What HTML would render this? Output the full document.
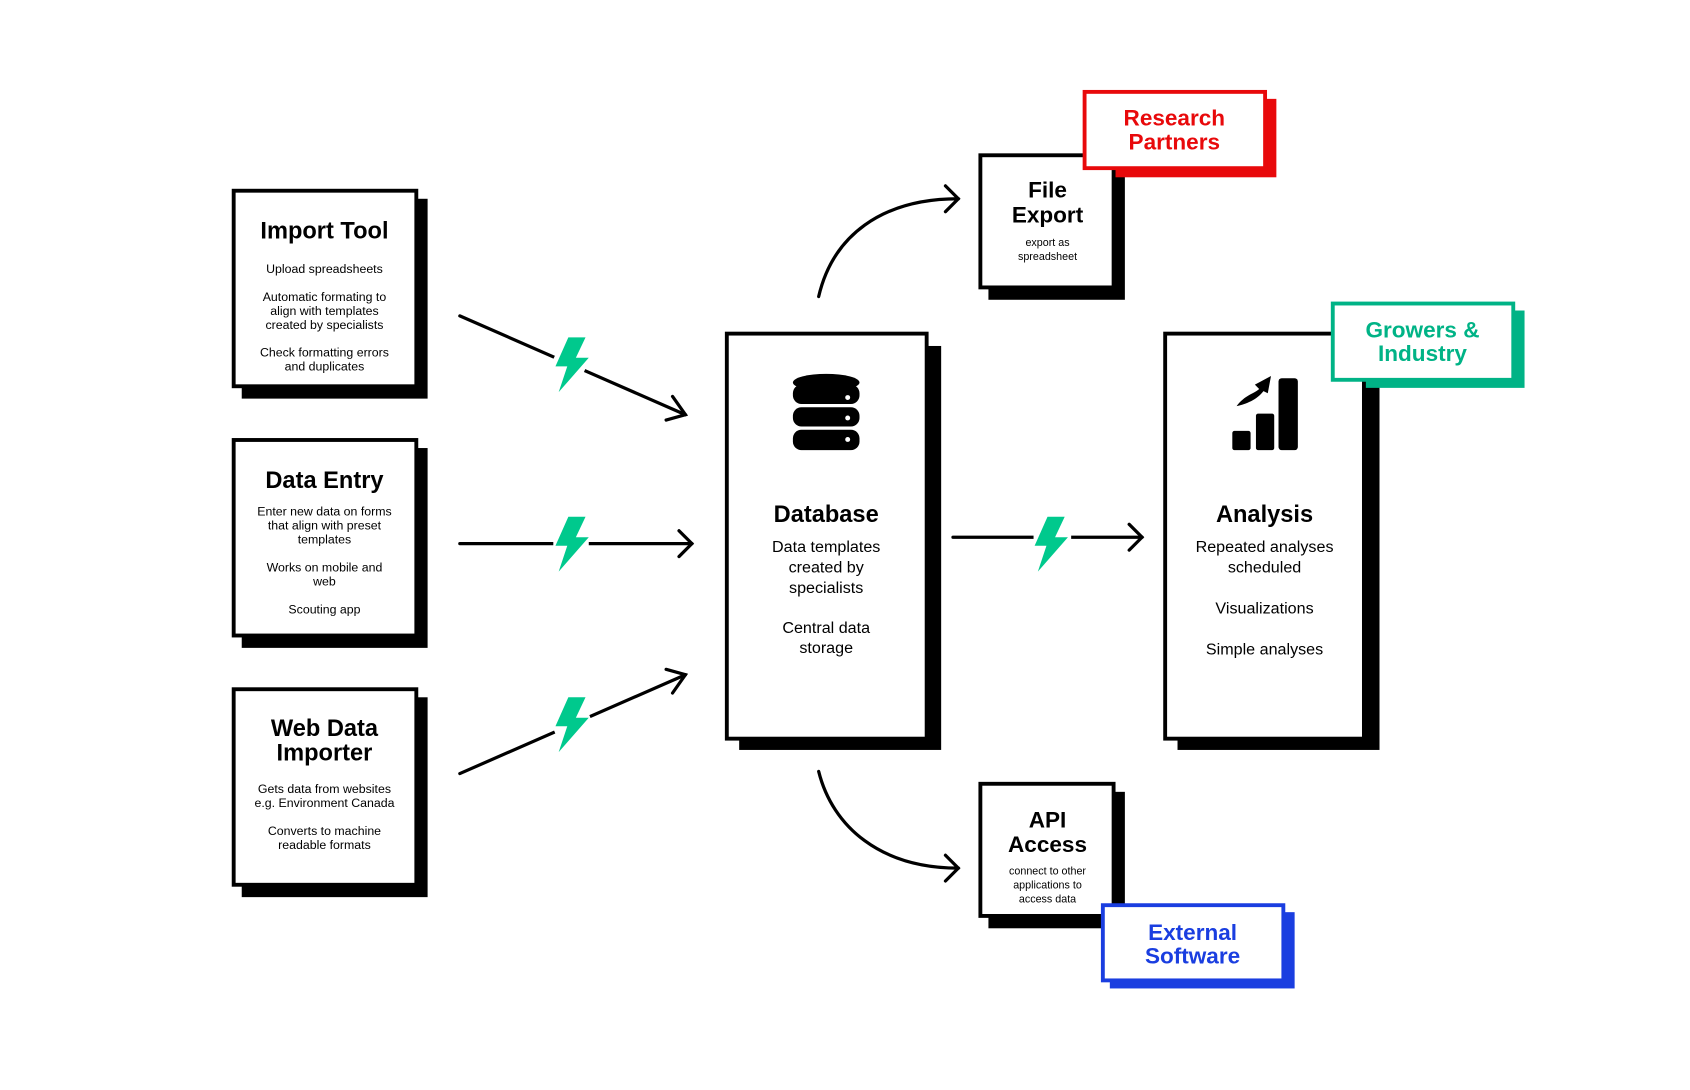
<!DOCTYPE html>
<html><head><meta charset="utf-8"><style>html,body{margin:0;padding:0;background:#fff}svg{display:block}</style></head>
<body>
<svg width="1690" height="1090" viewBox="0 0 1573 1014.5" xmlns="http://www.w3.org/2000/svg" font-family="Liberation Sans, sans-serif">
<rect width="1573" height="1015" fill="#fff"/>
<defs>
<polygon id="bolt" points="-3,-25 13,-25 4,-6 16,-6 -12,26 -4,2 -15,2" fill="#00c98d"/>
</defs>
<!-- shadows -->
<g fill="#000">
<rect x="225" y="185" width="173" height="186"/>
<rect x="225" y="417" width="173" height="186"/>
<rect x="225" y="649" width="173" height="186"/>
<rect x="688" y="322" width="188" height="376"/>
<rect x="1096" y="322" width="188" height="376"/>
<rect x="920" y="152" width="127" height="127"/>
<rect x="920" y="737" width="127" height="127"/>
</g>
<rect x="1017" y="92" width="171" height="73" fill="#e8090b"/>
<rect x="1247" y="289" width="172" height="72" fill="#00b386"/>
<rect x="1033" y="849" width="172" height="71" fill="#1a3ee0"/>
<!-- boxes -->
<g fill="#fff" stroke="#000" stroke-width="3.6">
<rect x="217.5" y="177.5" width="170" height="182"/>
<rect x="217.5" y="409.5" width="170" height="182"/>
<rect x="217.5" y="641.5" width="170" height="182"/>
<rect x="676.5" y="310.5" width="186" height="377"/>
<rect x="1084.5" y="310.5" width="185" height="377"/>
<rect x="912.5" y="144.5" width="124" height="123"/>
<rect x="912.5" y="729.5" width="124" height="123"/>
</g>
<rect x="1009.5" y="85.5" width="168" height="71" fill="#fff" stroke="#e8090b" stroke-width="3.6"/>
<rect x="1240.5" y="282.5" width="168" height="71" fill="#fff" stroke="#00b386" stroke-width="3.6"/>
<rect x="1026.5" y="842.5" width="168" height="70" fill="#fff" stroke="#1a3ee0" stroke-width="3.6"/>
<!-- text -->
<g text-anchor="middle" fill="#000">
<text x="302" y="222" font-size="22" font-weight="bold">Import Tool</text>
<g font-size="11.5">
<text x="302" y="254">Upload spreadsheets</text>
<text x="302" y="280">Automatic formating to</text>
<text x="302" y="293">align with templates</text>
<text x="302" y="306">created by specialists</text>
<text x="302" y="332">Check formatting errors</text>
<text x="302" y="345">and duplicates</text>
</g>
<text x="302" y="454" font-size="22" font-weight="bold">Data Entry</text>
<g font-size="11.5">
<text x="302" y="480">Enter new data on forms</text>
<text x="302" y="493">that align with preset</text>
<text x="302" y="506">templates</text>
<text x="302" y="532">Works on mobile and</text>
<text x="302" y="545">web</text>
<text x="302" y="571">Scouting app</text>
</g>
<text x="302" y="685" font-size="22" font-weight="bold">Web Data</text>
<text x="302" y="708" font-size="22" font-weight="bold">Importer</text>
<g font-size="11.5">
<text x="302" y="738">Gets data from websites</text>
<text x="302" y="751">e.g. Environment Canada</text>
<text x="302" y="777">Converts to machine</text>
<text x="302" y="790">readable formats</text>
</g>
<text x="769" y="486" font-size="22" font-weight="bold">Database</text>
<g font-size="15">
<text x="769" y="514">Data templates</text>
<text x="769" y="533">created by</text>
<text x="769" y="552">specialists</text>
<text x="769" y="589">Central data</text>
<text x="769" y="608">storage</text>
</g>
<text x="1177" y="486" font-size="22" font-weight="bold">Analysis</text>
<g font-size="15">
<text x="1177" y="514">Repeated analyses</text>
<text x="1177" y="533">scheduled</text>
<text x="1177" y="571">Visualizations</text>
<text x="1177" y="609">Simple analyses</text>
</g>
<text x="975" y="184" font-size="21" font-weight="bold">File</text>
<text x="975" y="207" font-size="21" font-weight="bold">Export</text>
<text x="975" y="229" font-size="10">export as</text>
<text x="975" y="242" font-size="10">spreadsheet</text>
<text x="975" y="770" font-size="21" font-weight="bold">API</text>
<text x="975" y="793" font-size="21" font-weight="bold">Access</text>
<text x="975" y="814" font-size="10">connect to other</text>
<text x="975" y="827" font-size="10">applications to</text>
<text x="975" y="840" font-size="10">access data</text>
<g font-size="21" font-weight="bold">
<text x="1093" y="117" fill="#e8090b">Research</text>
<text x="1093" y="139" fill="#e8090b">Partners</text>
<text x="1324" y="314" fill="#00b386">Growers &amp;</text>
<text x="1324" y="336" fill="#00b386">Industry</text>
<text x="1110" y="875" fill="#1a3ee0">External</text>
<text x="1110" y="897" fill="#1a3ee0">Software</text>
</g>
</g>
<!-- connectors -->
<g stroke="#000" stroke-width="3" fill="none" stroke-linecap="round">
<line x1="428" y1="294" x2="638" y2="386"/>
<polyline points="626,369 638,386 620,391"/>
<line x1="428" y1="506" x2="644" y2="506"/>
<polyline points="632,494 644,506 632,518"/>
<line x1="428" y1="720" x2="638" y2="628"/>
<polyline points="620,623 638,628 626,645"/>
<line x1="887" y1="500" x2="1063" y2="500"/>
<polyline points="1051,488 1063,500 1051,512"/>
<path d="M762,276 C775,220 820,185 892,185"/>
<polyline points="880,173 892,185 880,197"/>
<path d="M762,718 C775,770 820,808 892,808"/>
<polyline points="880,796 892,808 880,820"/>
</g>
<g stroke="#fff" stroke-width="12">
<line x1="517" y1="330" x2="545" y2="343"/>
<line x1="515" y1="506" x2="548" y2="506"/>
<line x1="517" y1="683" x2="550" y2="669"/>
<line x1="962" y1="500" x2="997" y2="500"/>
</g>
<use href="#bolt" x="532" y="339"/>
<use href="#bolt" x="532" y="506"/>
<use href="#bolt" x="532" y="674"/>
<use href="#bolt" x="978" y="506"/>
<!-- database icon -->
<g fill="#000">
<ellipse cx="769" cy="356" rx="31" ry="8"/>
<rect x="738" y="358" width="62" height="18" rx="8"/>
<rect x="738" y="379" width="62" height="18" rx="8"/>
<rect x="738" y="400" width="62" height="19" rx="8"/>
</g>
<g fill="#fff"><circle cx="789" cy="370" r="2.3"/><circle cx="789" cy="389" r="2.3"/><circle cx="789" cy="409" r="2.3"/></g>
<!-- chart icon -->
<g fill="#000">
<rect x="1147" y="401" width="17" height="18" rx="2"/>
<rect x="1169" y="385" width="17" height="34" rx="2"/>
<rect x="1190" y="352" width="18" height="67" rx="3"/>
<path d="M1151,378 C1158,368 1168,366 1172,362 L1168,358 L1183,350 L1180,366 L1176,364 C1170,372 1160,376 1151,378 Z"/>
</g>
</svg>
</body></html>
